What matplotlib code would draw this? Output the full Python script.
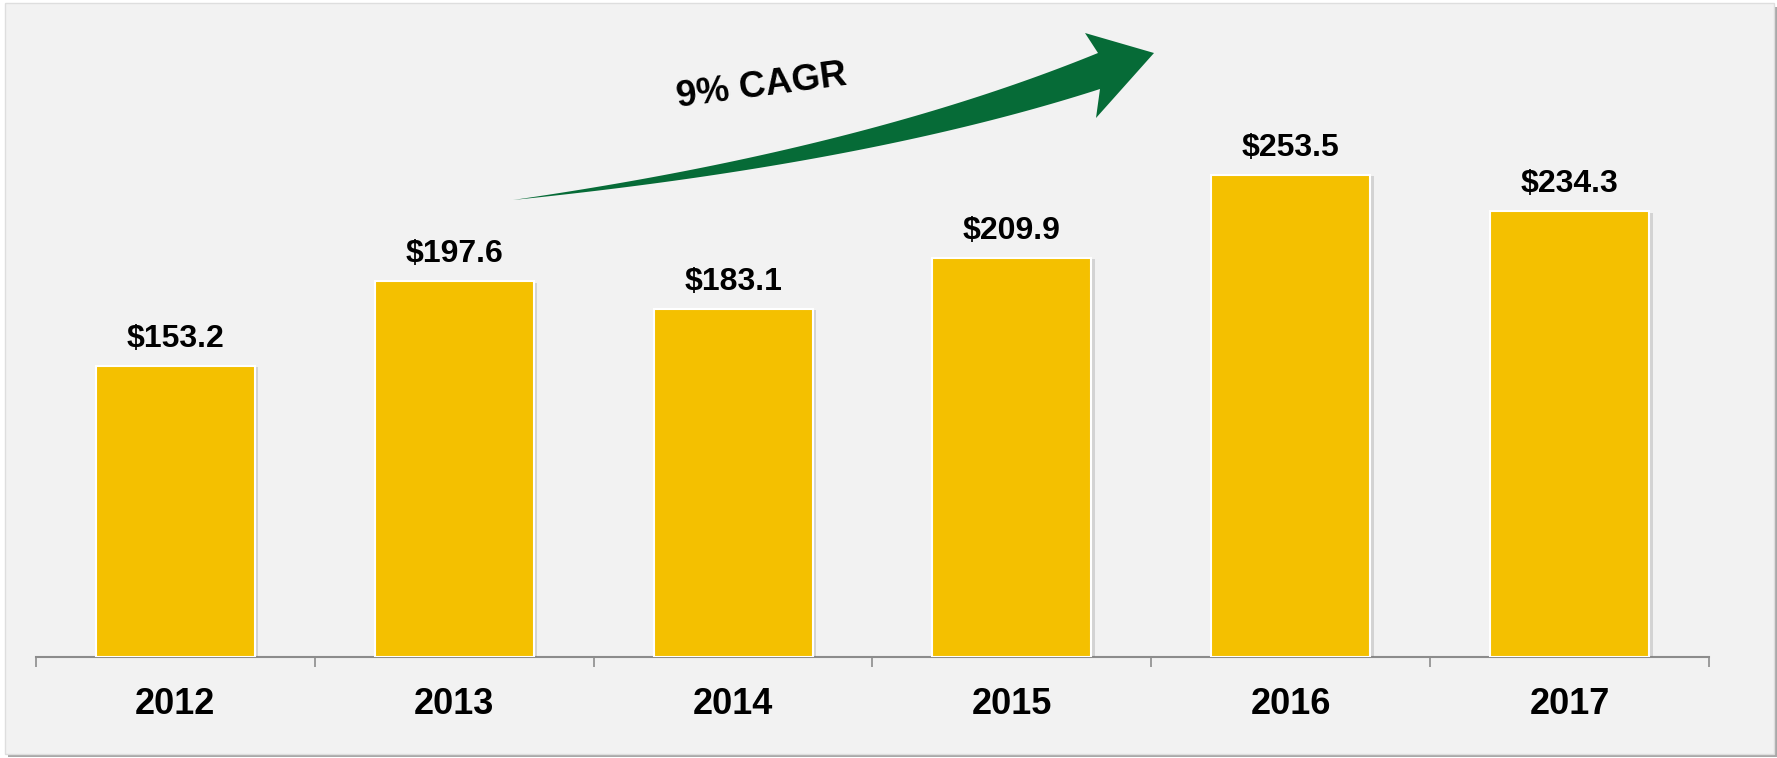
import matplotlib
matplotlib.use("Agg")
import matplotlib.pyplot as plt
import matplotlib.patheffects as pe
from matplotlib.patches import Rectangle, Polygon
import numpy as np

years = ["2012", "2013", "2014", "2015", "2016", "2017"]
values = [153.2, 197.6, 183.1, 209.9, 253.5, 234.3]
value_labels = ["$153.2", "$197.6", "$183.1", "$209.9", "$253.5", "$234.3"]
cagr_text = "9% CAGR"

W, H = 1777, 758
fig = plt.figure(figsize=(W / 100, H / 100), dpi=100)
fig.patch.set_facecolor("white")
FONT = "Liberation Sans"

def fx(x):
    return x / W

def fy(y):
    return 1 - y / H

# panel with shadow
fig.patches.append(Rectangle((fx(8), fy(757)), fx(1769), 750 / H, transform=fig.transFigure,
                             facecolor="#a8a8a8", edgecolor="none", zorder=-3))
fig.patches.append(Rectangle((fx(5), fy(754)), fx(1769), 751 / H, transform=fig.transFigure,
                             facecolor="#f2f2f2", edgecolor="#dedede", linewidth=1, zorder=-2))

ax_left, ax_right = 36, 1709
ax_bottom, ax_top = 657, 10
ax = fig.add_axes([fx(ax_left), fy(ax_bottom), fx(ax_right - ax_left), (ax_bottom - ax_top) / H])
ax.set_zorder(1)
ax.set_facecolor("none")
ax.set_xlim(-0.5, len(years) - 0.5)
ax.set_ylim(0, (ax_bottom - ax_top) / 1.902)

x = np.arange(len(years))
bars = ax.bar(x, values, width=0.57, color="#f4c000", edgecolor="white", linewidth=1.5, zorder=3)
for b in bars:
    b.set_path_effects([pe.SimplePatchShadow(offset=(2.5, -1), shadow_rgbFace="#777777", alpha=0.25),
                        pe.Normal()])

for xi, v, lab in zip(x, values, value_labels):
    ax.annotate(lab, (xi, v), xytext=(0, 13.7), textcoords="offset points",
                ha="center", va="baseline", fontsize=23, fontweight="bold",
                family=FONT, color="black", zorder=4)

for xi, yr in zip(x, years):
    ax.annotate(yr, (xi, 0), xycoords=("data", "axes fraction"), xytext=(0, -41),
                textcoords="offset points", ha="center", va="baseline",
                fontsize=26, fontweight="bold", family=FONT, color="black")

for s in ["top", "right", "left"]:
    ax.spines[s].set_visible(False)
ax.spines["bottom"].set_color("#8c8c8c")
ax.spines["bottom"].set_linewidth(1.5)
ax.set_yticks([])
ax.set_xticks(np.arange(-0.5, len(years), 1.0))
ax.set_xticklabels([])
ax.tick_params(axis="x", direction="out", length=7.5, width=1.2, color="#8c8c8c")

# curved green arrow (annotation)
def bez(p0, c, p2, n=60):
    t = np.linspace(0, 1, n)[:, None]
    p0, c, p2 = map(np.array, (p0, c, p2))
    return (1 - t) ** 2 * p0 + 2 * (1 - t) * t * c + t ** 2 * p2

tail = (513, 200)
upper = bez(tail, (860, 150), (1098, 53))
lower = bez(tail, (867, 164), (1100, 89))[::-1]
head = np.array([(1085, 33), (1154, 53), (1096, 118)])
pts = np.vstack([upper, head, lower])
pts_fig = np.column_stack([pts[:, 0] / W, 1 - pts[:, 1] / H])
fig.patches.append(Polygon(pts_fig, closed=True, transform=fig.transFigure,
                           facecolor="#066b37", edgecolor="none", zorder=-1))

fig.text(fx(762), fy(86), cagr_text, rotation=7.5, ha="center", va="center",
         fontsize=26.5, fontweight="bold", family=FONT, color="black",
         rotation_mode="anchor", zorder=5)

fig.savefig("out.png", dpi=100, facecolor=fig.get_facecolor())
